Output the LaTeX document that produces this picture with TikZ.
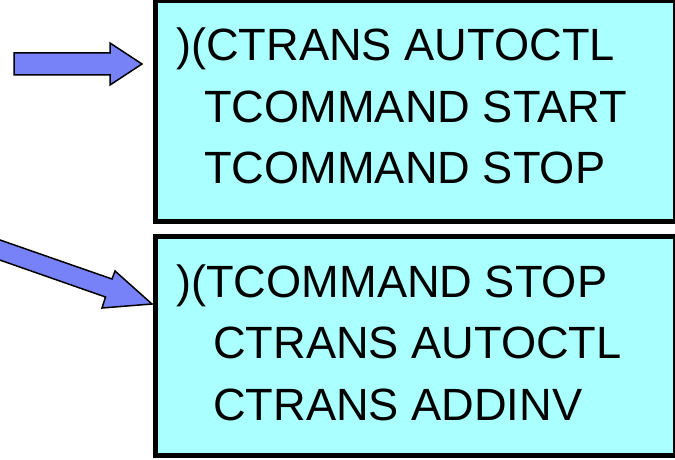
\documentclass[tikz,border=0pt]{standalone}
\usepackage{fontspec}
\setmainfont{Liberation Sans}
\definecolor{boxcyan}{RGB}{170,255,255}
\definecolor{arrowblue}{RGB}{120,130,248}
\tikzset{
  cmdbox/.style={draw=black, line width=5pt, fill=boxcyan},
  blockarrow/.style={draw=black, line width=1.5pt, fill=arrowblue, line join=miter},
  cmdline/.style={inner sep=0pt, anchor=base west, font=\fontsize{45.2pt}{61pt}\selectfont}
}
\begin{document}
\begin{tikzpicture}[x=1pt,y=-1pt]
\useasboundingbox (0,0) rectangle (675,460);
\clip (0,0) rectangle (675,460);
% boxes
\draw[cmdbox] (155,1) rectangle (675.5,221.5);
\draw[cmdbox] (155,236.5) rectangle (675.5,455.5);
% top box text
\node[cmdline] (a1) at (176,61) {)(CTRANS AUTOCTL};
\node[cmdline] (a2) at (204,122) {TCOMMAND START};
\node[cmdline] (a3) at (204,183) {TCOMMAND STOP};
% bottom box text
\node[cmdline] (b1) at (176,297) {)(TCOMMAND STOP};
\node[cmdline] (b2) at (213,358) {CTRANS AUTOCTL};
\node[cmdline] (b3) at (213,420) {CTRANS ADDINV};
% horizontal block arrow
\draw[blockarrow] (14,53) -- (110,53) -- (110,43) -- (142,64) -- (110,85) -- (110,75) -- (14,75) -- cycle;
% diagonal block arrow
\draw[blockarrow] (-10,236.5) -- (112,279) -- (115,271) -- (152,304) -- (102,308) -- (105.5,297) -- (-10,256.6) -- cycle;
\end{tikzpicture}
\end{document}
